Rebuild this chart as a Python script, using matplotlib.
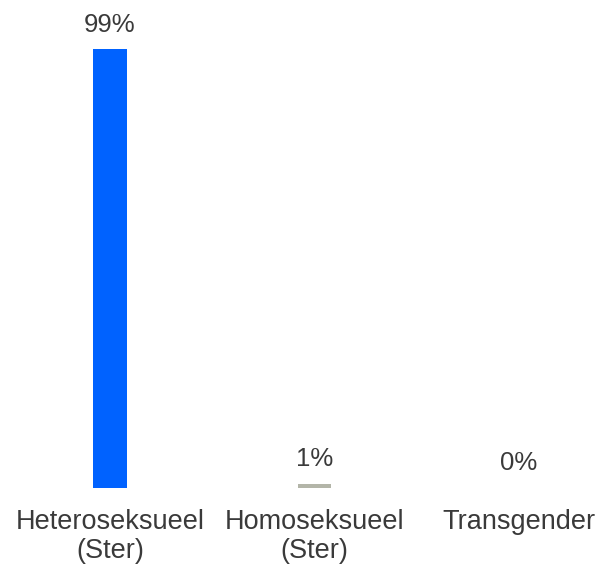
import matplotlib.pyplot as plt

categories = ['Heteroseksueel\n(Ster)', 'Homoseksueel\n(Ster)', 'Transgender']
values = [99, 1, 0]
colors = ['#0062ff', '#b3b5a8', '#b3b5a8']

plt.rcParams['font.family'] = ['Liberation Sans', 'DejaVu Sans']

fig = plt.figure(figsize=(6.0, 5.68), dpi=100)
# axes placed in pixels: bottom of bars at y=488, tallest bar top at y=49
ax = fig.add_axes([7.75 / 600, 80 / 568, 593 / 600, 439 / 568])

x = range(len(categories))
bars = ax.bar(x, values, width=0.162, color=colors)

for rect, v in zip(bars, values):
    ax.annotate(f'{v}%', xy=(rect.get_x() + rect.get_width() / 2, v),
                xytext=(0, 9), textcoords='offset points',
                ha='center', va='bottom', fontsize=18.5, color='#3a3a3a',
                annotation_clip=False)

ax.set_xlim(-0.5, 2.4)
ax.set_ylim(0, 99)
ax.set_xticks(list(x))
ax.set_xticklabels(categories, fontsize=19.5, color='#3a3a3a', linespacing=1.15)
ax.tick_params(axis='x', length=0, pad=15)
ax.set_yticks([])
for spine in ax.spines.values():
    spine.set_visible(False)

fig.savefig('out.png', dpi=100)
